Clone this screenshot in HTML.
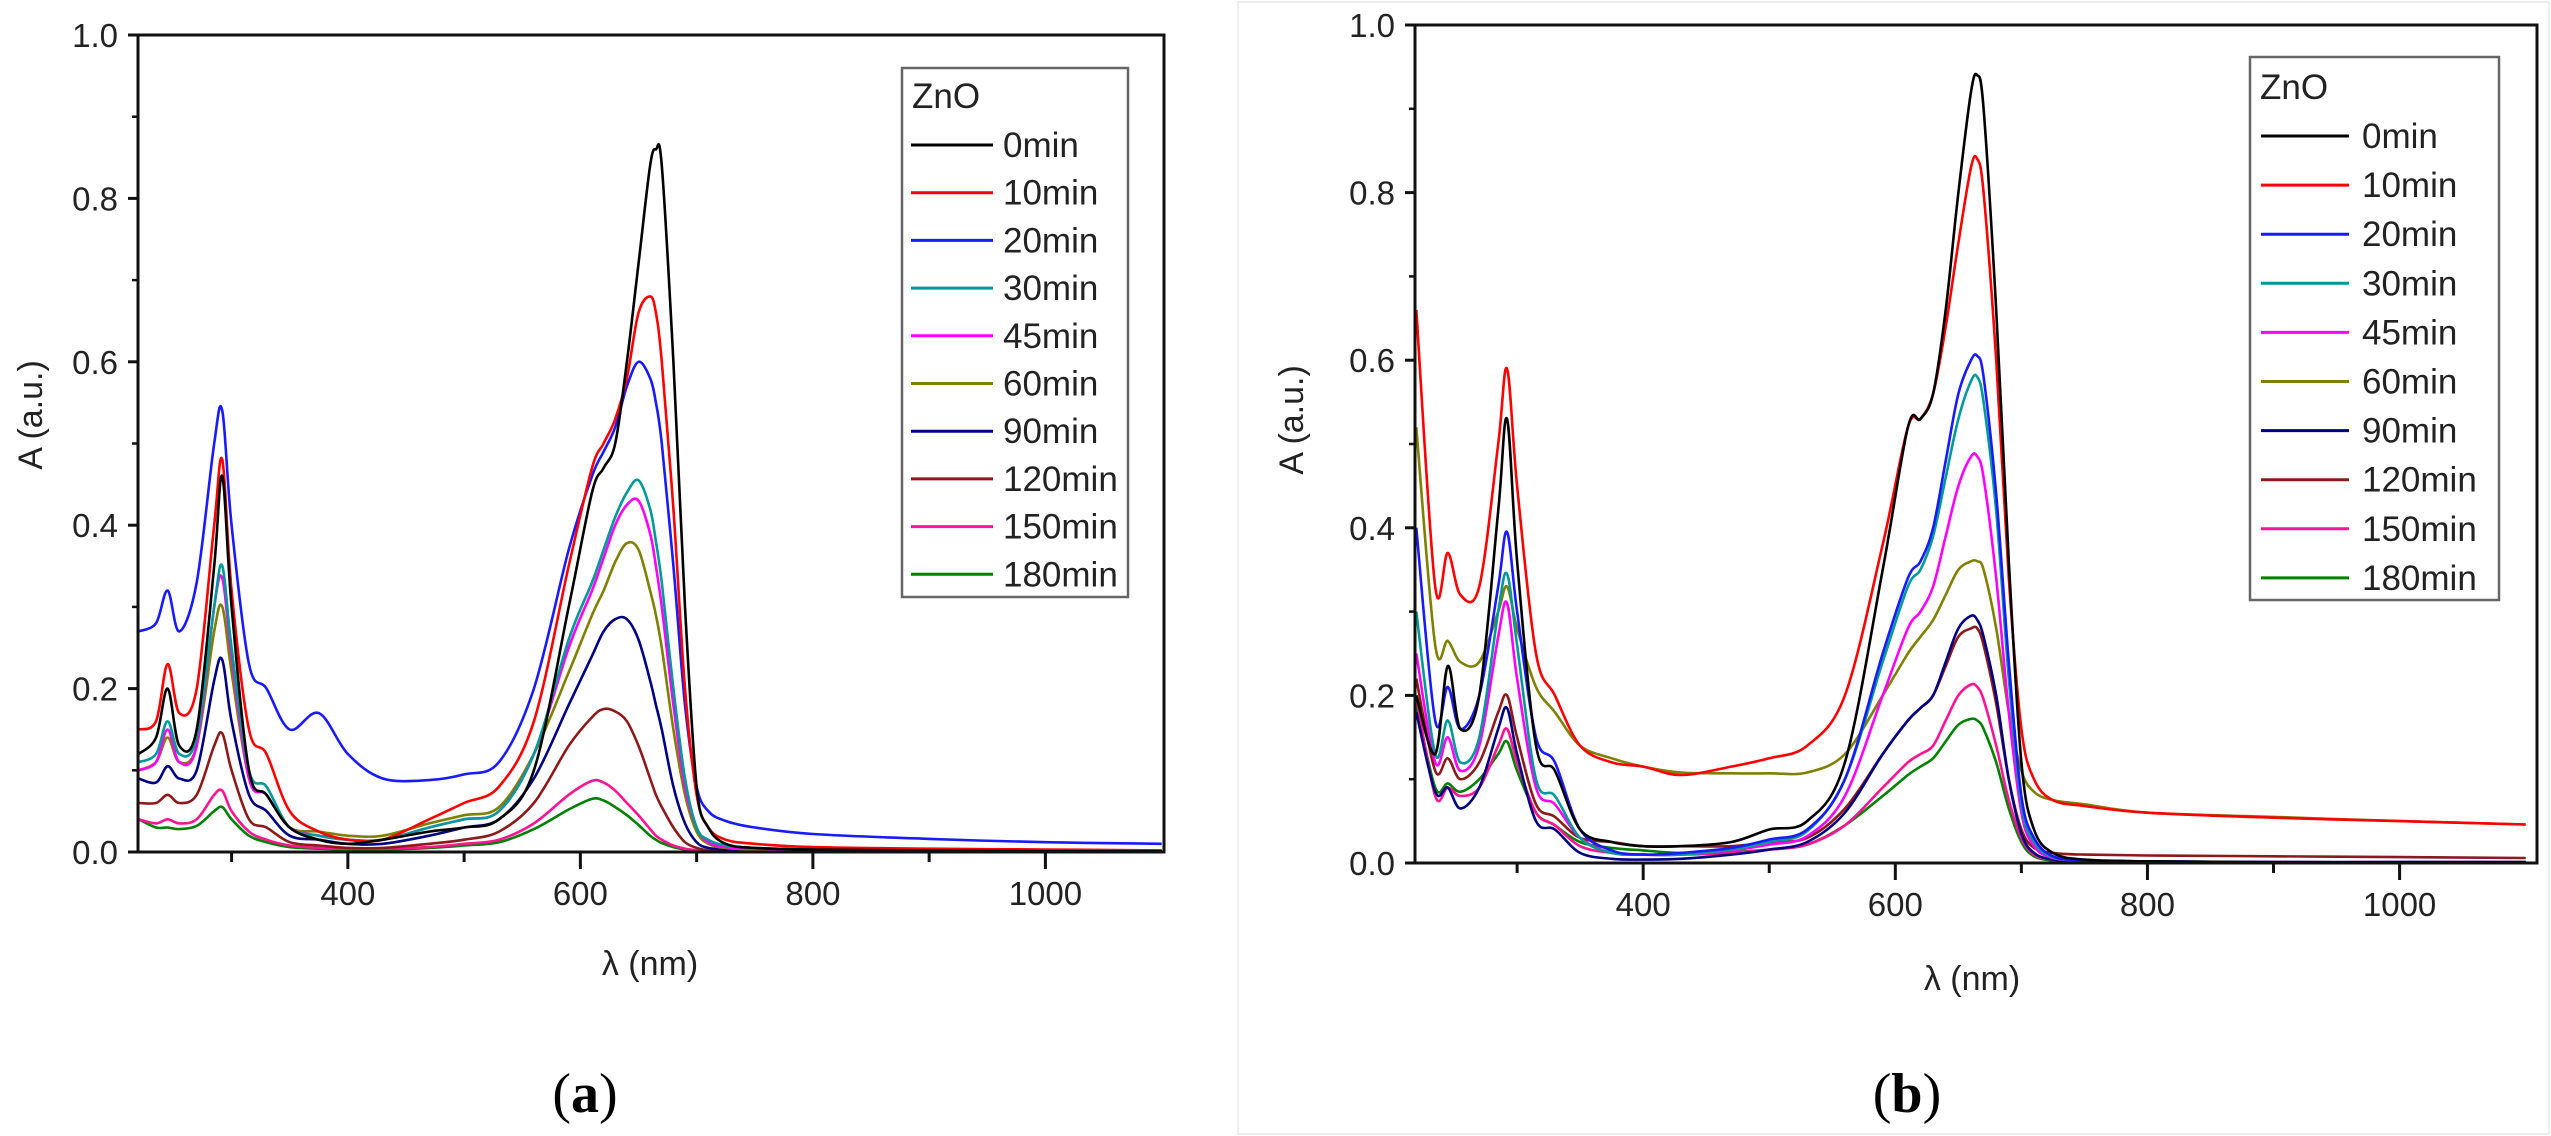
<!DOCTYPE html>
<html><head><meta charset="utf-8"><style>
html,body{margin:0;padding:0;background:#fff;}
svg{display:block;font-family:"Liberation Sans",sans-serif;}
</style></head><body>
<svg id="fig" width="2551" height="1136" viewBox="0 0 2551 1136">
<rect x="1238" y="2" width="1311" height="1132" fill="none" stroke="#eee" stroke-width="2"/>
</svg>
<script>
const wavelengths=[220,235,245,255,270,285,292,300,315,330,350,375,400,430,470,500,530,560,590,610,620,630,640,650,660,665,670,680,690,700,710,725,750,800,900,1000,1100];
const seriesLabels=["0min","10min","20min","30min","45min","60min","90min","120min","150min","180min"];
const seriesColors=["#000000","#ff0000","#1a1aff","#009999","#ff00ff","#808000","#000080","#8b1a1a","#ff1493","#008000"];
const xTicks=[400,600,800,1000];
const xMinorTicks=[300,500,700,900];
const yTicks=[0,0.2,0.4,0.6,0.8,1.0];
const yTickLabels=["0.0","0.2","0.4","0.6","0.8","1.0"];
const yMinorTicks=[0.1,0.3,0.5,0.7,0.9];
const dataA=[
[.12,.14,.20,.13,.15,.35,.46,.30,.10,.07,.03,.015,.01,.015,.025,.03,.04,.10,.30,.44,.47,.50,.60,.72,.84,.86,.84,.60,.30,.08,.03,.01,.005,.003,.002,.001,.001],
[.15,.16,.23,.17,.20,.40,.48,.32,.15,.12,.05,.025,.015,.015,.04,.06,.08,.16,.35,.47,.50,.53,.58,.66,.68,.66,.60,.42,.20,.07,.03,.015,.01,.006,.004,.003,.002],
[.27,.28,.32,.27,.33,.50,.54,.40,.23,.20,.15,.17,.12,.09,.088,.095,.11,.20,.37,.46,.49,.52,.57,.60,.58,.55,.50,.35,.18,.08,.05,.038,.03,.022,.016,.012,.01],
[.11,.12,.16,.12,.14,.30,.35,.25,.10,.08,.03,.02,.015,.015,.03,.04,.05,.12,.26,.33,.37,.41,.44,.455,.42,.38,.33,.20,.09,.03,.015,.008,.005,.003,.002,.001,.001],
[.10,.11,.15,.11,.13,.30,.335,.24,.09,.07,.03,.02,.015,.015,.03,.04,.05,.12,.25,.32,.36,.40,.425,.43,.39,.35,.30,.18,.08,.03,.012,.006,.004,.003,.002,.001,.001],
[.10,.11,.14,.11,.13,.27,.30,.22,.09,.07,.03,.025,.02,.02,.035,.045,.055,.12,.22,.29,.32,.355,.378,.37,.32,.29,.25,.15,.07,.025,.01,.005,.003,.002,.001,.001,.001],
[.09,.085,.105,.09,.10,.21,.235,.16,.07,.05,.02,.015,.01,.01,.02,.03,.04,.09,.18,.24,.27,.285,.285,.26,.21,.18,.15,.08,.035,.012,.005,.003,.002,.001,.001,.001,.001],
[.06,.06,.07,.06,.07,.13,.145,.10,.04,.03,.012,.008,.005,.005,.01,.015,.025,.06,.13,.165,.175,.172,.16,.13,.09,.07,.055,.03,.012,.005,.002,.001,.001,0,0,0,0],
[.04,.035,.04,.035,.04,.07,.075,.05,.025,.015,.008,.005,.004,.004,.006,.01,.015,.035,.07,.087,.085,.075,.06,.045,.028,.02,.015,.008,.004,.002,.001,0,0,0,0,0,0],
[.04,.03,.03,.028,.032,.05,.055,.04,.02,.012,.006,.004,.003,.003,.005,.008,.012,.028,.052,.065,.063,.055,.045,.033,.02,.015,.011,.006,.003,.001,0,0,0,0,0,0,0]
];
const dataB=[
[.20,.13,.235,.16,.20,.42,.53,.36,.14,.11,.04,.025,.02,.02,.025,.04,.05,.12,.35,.52,.53,.56,.66,.80,.92,.94,.90,.66,.36,.12,.04,.012,.004,.002,.001,.001,.001],
[.66,.33,.37,.32,.33,.50,.59,.45,.25,.20,.14,.12,.115,.105,.115,.125,.14,.20,.38,.52,.53,.56,.64,.74,.83,.84,.80,.60,.34,.16,.10,.075,.068,.06,.054,.05,.046],
[.40,.17,.21,.16,.20,.33,.395,.30,.15,.12,.04,.015,.01,.012,.018,.028,.04,.10,.25,.34,.36,.40,.48,.56,.60,.605,.58,.44,.24,.08,.03,.008,.003,.002,.001,.001,.001],
[.30,.13,.17,.12,.15,.30,.345,.26,.10,.08,.03,.012,.01,.01,.016,.025,.038,.10,.24,.33,.35,.39,.46,.53,.575,.58,.55,.42,.22,.07,.025,.007,.003,.002,.001,.001,.001],
[.25,.12,.15,.11,.14,.27,.31,.22,.09,.07,.03,.012,.01,.01,.015,.022,.032,.08,.20,.28,.30,.33,.39,.45,.485,.485,.46,.34,.18,.06,.02,.006,.003,.002,.001,.001,.001],
[.52,.26,.265,.24,.24,.30,.33,.28,.21,.18,.14,.125,.115,.108,.107,.107,.108,.13,.20,.25,.27,.29,.32,.35,.36,.36,.35,.28,.18,.11,.085,.075,.07,.06,.055,.05,.046],
[.18,.085,.09,.065,.09,.16,.185,.13,.05,.04,.012,.005,.004,.005,.01,.016,.025,.06,.13,.17,.185,.20,.24,.28,.295,.29,.27,.20,.10,.035,.012,.004,.002,.001,.001,.001,.001],
[.22,.11,.125,.10,.12,.18,.20,.15,.07,.055,.03,.025,.02,.02,.02,.025,.03,.065,.13,.17,.185,.20,.235,.27,.28,.28,.26,.19,.10,.04,.018,.012,.01,.009,.008,.007,.006],
[.20,.08,.09,.08,.09,.14,.16,.12,.06,.045,.02,.012,.01,.01,.012,.016,.022,.045,.09,.12,.13,.14,.17,.20,.213,.21,.195,.14,.075,.03,.01,.004,.002,.001,.001,.001,.001],
[.19,.09,.095,.085,.10,.13,.145,.11,.06,.045,.025,.018,.015,.012,.013,.016,.022,.045,.08,.105,.115,.125,.145,.165,.172,.17,.16,.12,.065,.025,.008,.003,.002,.001,.001,.001,.001]
];
const NS="http://www.w3.org/2000/svg";
const svg=document.getElementById('fig');
function mk(tag,attrs,parent){const e=document.createElementNS(NS,tag);for(const k in attrs)e.setAttribute(k,attrs[k]);(parent||svg).appendChild(e);return e;}
function pathFrom(pts){let d="M"+pts[0][0].toFixed(1)+","+pts[0][1].toFixed(1);
 for(let i=0;i<pts.length-1;i++){const p0=pts[Math.max(0,i-1)],p1=pts[i],p2=pts[i+1],p3=pts[Math.min(pts.length-1,i+2)];
  const c1x=p1[0]+(p2[0]-p0[0])/6,c1y=p1[1]+(p2[1]-p0[1])/6,c2x=p2[0]-(p3[0]-p1[0])/6,c2y=p2[1]-(p3[1]-p1[1])/6;
  d+=" C"+c1x.toFixed(1)+","+c1y.toFixed(1)+" "+c2x.toFixed(1)+","+c2y.toFixed(1)+" "+p2[0].toFixed(1)+","+p2[1].toFixed(1);}
 return d;}
function drawChart(c){
 const g=mk('g',{});
 
 
 const xs=v=>c.L+(v-c.xmin)/(c.xmax-c.xmin)*(c.R-c.L);
 const ys=v=>c.B-(v-0)/(1-0)*(c.B-c.T);
 const clip=mk('clipPath',{id:c.name+'-clip'},g);
 mk('rect',{x:c.L,y:c.T,width:c.R-c.L,height:c.B-c.T},clip);
 const lines=mk('g',{'clip-path':'url(#'+c.name+'-clip)'},g);
 
 
 for(let s=c.data.length-1;s>=0;s--){
  const pts=wavelengths.map((w,i)=>[xs(w),ys(c.data[s][i])]);
  const p=mk('path',{d:pathFrom(pts),fill:'none',stroke:seriesColors[s],'stroke-width':2.6,'stroke-linejoin':'round'},lines);
  
  
 }
 const frame=mk('rect',{x:c.L,y:c.T,width:c.R-c.L,height:c.B-c.T,fill:'none',stroke:'#111','stroke-width':3},g);
 
 
 xTicks.forEach((t,i)=>{const x=xs(t);
  const tk=mk('line',{x1:x,x2:x,y1:c.B,y2:c.B+17,stroke:'#111','stroke-width':3},g);
  
  
  const tx=mk('text',{x:x,y:c.B+53,'font-size':33,'text-anchor':'middle',fill:'#222'},g);
  tx.textContent=t;
  
  });
 xMinorTicks.forEach(t=>{const x=xs(t);
  const tk=mk('line',{x1:x,x2:x,y1:c.B,y2:c.B+10,stroke:'#111','stroke-width':3},g);
  
  });
 yTicks.forEach((t,i)=>{const y=ys(t);
  const tk=mk('line',{x1:c.L-10,x2:c.L,y1:y,y2:y,stroke:'#111','stroke-width':3},g);
  
  
  const tx=mk('text',{x:c.L-20,y:y+12,'font-size':33,'text-anchor':'end',fill:'#222'},g);
  tx.textContent=yTickLabels[i];
  
  });
 yMinorTicks.forEach(t=>{const y=ys(t);
  const tk=mk('line',{x1:c.L-6,x2:c.L,y1:y,y2:y,stroke:'#111','stroke-width':2.5},g);
  
  });
 const yl=mk('text',{x:0,y:0,'font-size':34,'text-anchor':'middle',fill:'#222',transform:'translate('+(c.ylx)+','+c.yly+') rotate(-90)'},g);
 yl.textContent='A (a.u.)';
 
 
 const xl=mk('text',{x:c.xlx,y:c.xly,'font-size':34,'text-anchor':'middle',fill:'#222'},g);
 xl.textContent='λ (nm)';
 
 
 const leg=mk('g',{},g);
 
 
 mk('rect',{x:c.lg.x,y:c.lg.y,width:c.lg.w,height:c.lg.h,fill:'#fff',stroke:'#666','stroke-width':2.5},leg);
 const tt=mk('text',{x:c.lg.x+10,y:c.lg.title+12,'font-size':35,fill:'#222'},leg);
 tt.textContent='ZnO';
 
 
 seriesLabels.forEach((lab,i)=>{const y=c.lg.r0+i*c.lg.dy;
  const e=mk('g',{},leg);
  
  
  mk('line',{x1:c.lg.l1,x2:c.lg.l2,y1:y,y2:y,stroke:seriesColors[i],'stroke-width':3},e);
  const t=mk('text',{x:c.lg.tx,y:y+12,'font-size':35,fill:'#222'},e);
  t.textContent=lab;});
 const cap=mk('text',{x:c.capx,y:1112,'font-size':56,'text-anchor':'middle',fill:'#000','font-family':'"Liberation Serif",serif'},g);
 cap.innerHTML='(<tspan font-weight="bold">'+c.cap+'</tspan>)';
 
 
}
drawChart({name:'chart-a',data:dataA,L:138,R:1164,T:35,B:852,xmin:219.5,xmax:1102,ylx:42,yly:415,xlx:650,xly:975,capx:585,cap:'a',
 lg:{x:902,y:68,w:226,h:529,title:96,r0:145,dy:47.7,l1:911,l2:993,tx:1003}});
drawChart({name:'chart-b',data:dataB,L:1415,R:2537,T:25,B:863,xmin:219,xmax:1109,ylx:1303,yly:420,xlx:1972,xly:990,capx:1907,cap:'b',
 lg:{x:2250,y:57,w:249,h:543,title:87,r0:136,dy:49.1,l1:2261,l2:2349,tx:2362}});
</script>
</body></html>
